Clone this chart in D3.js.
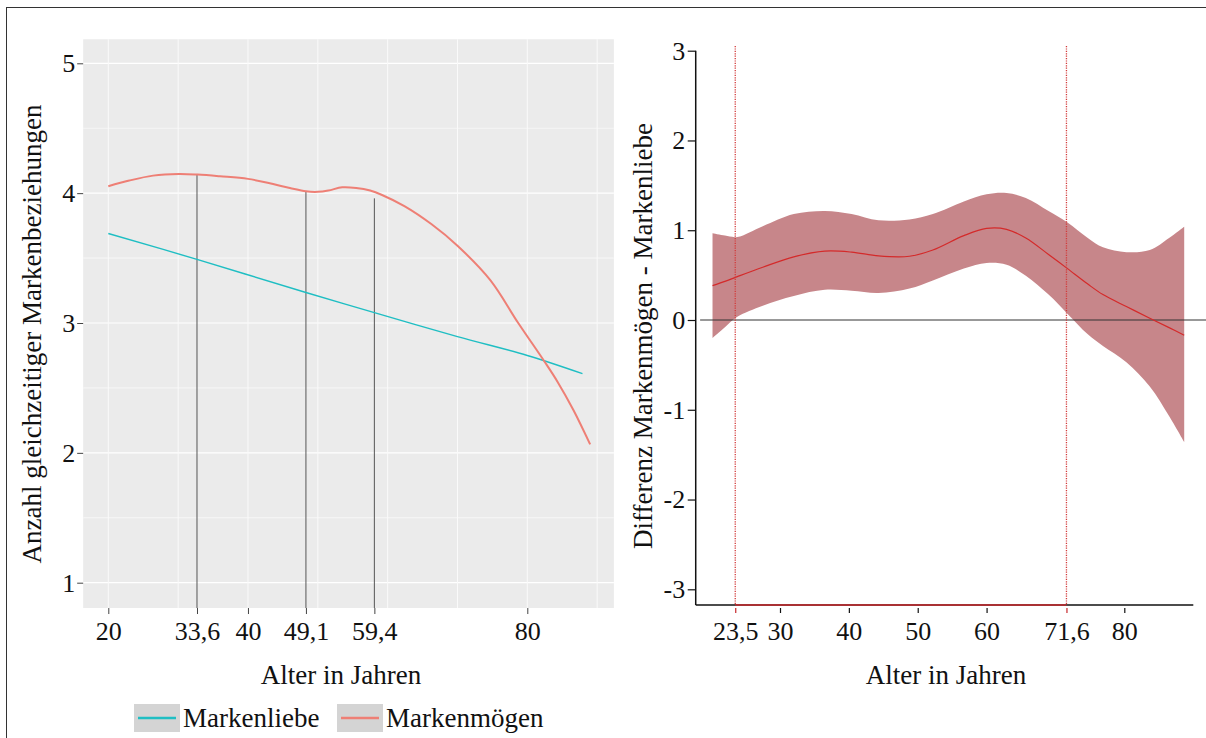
<!DOCTYPE html>
<html>
<head>
<meta charset="utf-8">
<script src="https://cdn.jsdelivr.net/npm/d3@7"></script>
<style>
  html, body { margin: 0; padding: 0; background: #fff; }
  svg { display: block; }
  text { font-family: "Liberation Serif", "Times New Roman", serif; fill: #111; }
</style>
</head>
<body>
<svg id="chart" width="1206" height="738"></svg>
<script>
// ---------------- Data (left panel) ----------------
const seriesNames = ["Markenliebe", "Markenmögen"];
const seriesColors = ["#1fbec3", "#ee7f75"];

const liebeAges = [20, 32.7, 48.3, 58.1, 70, 80, 87.9];
const liebeVals = [3.689, 3.49, 3.235, 3.08, 2.895, 2.75, 2.61];

const moegenAges = [20, 23, 26.4, 30.1, 32.8, 36, 40, 43.6, 46, 48.3, 50, 51.5, 53.5, 55.5, 57.5, 59.2, 62.4, 66.3, 70, 74.7, 78.7, 82.5, 84.3, 86.6, 89.0];
const moegenVals = [4.053, 4.097, 4.135, 4.148, 4.143, 4.13, 4.11, 4.07, 4.04, 4.014, 4.01, 4.02, 4.045, 4.04, 4.02, 3.986, 3.90, 3.76, 3.595, 3.33, 3.0, 2.70, 2.55, 2.33, 2.065];

// vertical marker lines (age position, top value)
const markerAges = [32.7, 48.3, 58.1];
const markerTops = [4.14, 4.01, 3.96];

const leftXTicks = [20, 32.7, 40, 48.3, 58.1, 80];
const leftXTickLabels = ["20", "33,6", "40", "49,1", "59,4", "80"];
const leftYTicks = [1, 2, 3, 4, 5];
const leftYMinor = [1.5, 2.5, 3.5, 4.5];
const leftGridAges = [20, 30, 40, 50, 60, 70, 80, 90];

// ---------------- Data (right panel) ----------------
const diffAges  = [20.2, 22.0, 23.8, 27.5, 32.0, 36.5, 40.4, 44.3, 48.8, 52.2, 56.7, 60.0, 62.9, 65.7, 69.0, 71.7, 74.7, 76.9, 80.3, 83.7, 86.5, 88.7];
const diffUpper = [0.966, 0.94, 0.925, 1.045, 1.18, 1.215, 1.18, 1.11, 1.12, 1.18, 1.32, 1.40, 1.415, 1.36, 1.215, 1.09, 0.914, 0.81, 0.756, 0.78, 0.914, 1.04];
const diffLower = [-0.20, -0.08, 0.036, 0.16, 0.268, 0.336, 0.325, 0.30, 0.35, 0.44, 0.573, 0.635, 0.615, 0.493, 0.283, 0.073, -0.16, -0.29, -0.47, -0.74, -1.07, -1.36];
const diffLine  = [0.383, 0.43, 0.483, 0.588, 0.704, 0.767, 0.756, 0.714, 0.71, 0.78, 0.94, 1.02, 1.01, 0.914, 0.73, 0.575, 0.40, 0.283, 0.15, 0.02, -0.085, -0.17];

const sigBounds = [23.5, 71.6];
const rightXTicks = [23.5, 30, 40, 50, 60, 71.6, 80];
const rightXTickLabels = ["23,5", "30", "40", "50", "60", "71,6", "80"];
const rightYTicks = [-3, -2, -1, 0, 1, 2, 3];

const leftYTitle = "Anzahl gleichzeitiger Markenbeziehungen";
const rightYTitle = "Differenz Markenmögen - Markenliebe";
const xTitle = "Alter in Jahren";

// ---------------- Drawing ----------------
const svg = d3.select("#chart");
const FS = 26, TFS = 27;
const redDark = "#c8282c";
const fmtInt = d => String(d); // plain hyphen minus like the reference

// outer frame
svg.append("rect").attr("x", 6.5).attr("y", 7.5).attr("width", 1220).attr("height", 760)
  .attr("fill", "none").attr("stroke", "#333").attr("stroke-width", 1);

// ===== Left panel =====
const xL = d3.scaleLinear().domain([20, 80]).range([108.3, 527.3]);
const yL = d3.scaleLinear().domain([1, 5]).range([582.7, 63.3]);
const panelAge = [16.4, 92.4], panelVal = [0.805, 5.185];

const gL = svg.append("g");
gL.append("rect")
  .attr("x", xL(panelAge[0])).attr("y", yL(panelVal[1]))
  .attr("width", xL(panelAge[1]) - xL(panelAge[0]))
  .attr("height", yL(panelVal[0]) - yL(panelVal[1]))
  .attr("fill", "#ebebeb");

gL.selectAll(".hminor").data(leftYMinor).join("line")
  .attr("x1", xL(panelAge[0])).attr("x2", xL(panelAge[1]))
  .attr("y1", d => yL(d)).attr("y2", d => yL(d))
  .attr("stroke", "#fafafa").attr("stroke-width", 0.8);
gL.selectAll(".hmajor").data(leftYTicks).join("line")
  .attr("x1", xL(panelAge[0])).attr("x2", xL(panelAge[1]))
  .attr("y1", d => yL(d)).attr("y2", d => yL(d))
  .attr("stroke", "#fff").attr("stroke-width", 1.2);
gL.selectAll(".vgrid").data(leftGridAges).join("line")
  .attr("x1", d => xL(d)).attr("x2", d => xL(d))
  .attr("y1", yL(panelVal[1])).attr("y2", yL(panelVal[0]))
  .attr("stroke", "#fafafa").attr("stroke-width", 1);

// marker lines
gL.selectAll(".marker").data(markerAges).join("line")
  .attr("x1", d => xL(d)).attr("x2", d => xL(d))
  .attr("y1", yL(panelVal[0])).attr("y2", (d, i) => yL(markerTops[i]))
  .attr("stroke", "#555").attr("stroke-width", 1);

const lineL = d3.line().x(d => xL(d[0])).y(d => yL(d[1])).curve(d3.curveCatmullRom.alpha(0.5));
gL.append("path").datum(liebeAges.map((a, i) => [a, liebeVals[i]]))
  .attr("d", lineL).attr("fill", "none").attr("stroke", seriesColors[0]).attr("stroke-width", 1.4);
gL.append("path").datum(moegenAges.map((a, i) => [a, moegenVals[i]]))
  .attr("d", lineL).attr("fill", "none").attr("stroke", seriesColors[1]).attr("stroke-width", 2);

// axes
const axLx = gL.append("g").attr("transform", `translate(0,${yL(panelVal[0])})`)
  .call(d3.axisBottom(xL).tickValues(leftXTicks).tickFormat((d, i) => leftXTickLabels[i]).tickSize(6).tickPadding(7.5));
const axLy = gL.append("g").attr("transform", `translate(${xL(panelAge[0])},0)`)
  .call(d3.axisLeft(yL).tickValues(leftYTicks).tickFormat(fmtInt).tickSize(6).tickPadding(2));
[axLx, axLy].forEach(a => {
  a.select(".domain").remove();
  a.selectAll(".tick line").attr("stroke", "#444");
  a.selectAll("text").style("font-size", FS + "px").attr("fill", "#111")
    .style("font-family", '"Liberation Serif", "Times New Roman", serif');
});

gL.append("text").attr("x", 341).attr("y", 684).attr("text-anchor", "middle")
  .style("font-size", TFS + "px").text(xTitle);
gL.append("text").attr("transform", "translate(41,334) rotate(-90)").attr("text-anchor", "middle")
  .style("font-size", TFS + "px").text(leftYTitle);

// legend
const legendX = [134, 337];
const lg = gL.selectAll(".leg").data(seriesNames).join("g")
  .attr("transform", (d, i) => `translate(${legendX[i]},704)`);
lg.append("rect").attr("width", 46).attr("height", 28).attr("fill", "#d4d4d4");
lg.append("line").attr("x1", 4).attr("x2", 42).attr("y1", 14).attr("y2", 14)
  .attr("stroke", (d, i) => seriesColors[i]).attr("stroke-width", 2.5);
lg.append("text").attr("x", 49).attr("y", 23).style("font-size", TFS + "px").text(d => d);

// ===== Right panel =====
const xR = d3.scaleLinear().domain([30, 80]).range([780, 1124.3]);
const yR = d3.scaleLinear().domain([-3, 3]).range([589.3, 50.7]);
const axisAge = [17.76, 90.02];
const axisY = 605;
const gR = svg.append("g");

// band
const area = d3.area().x(d => xR(d[0])).y0(d => yR(d[1])).y1(d => yR(d[2])).curve(d3.curveCatmullRom.alpha(0.5));
gR.append("path").datum(diffAges.map((a, i) => [a, diffLower[i], diffUpper[i]]))
  .attr("d", area).attr("fill", "#c7868a");

// zero line
gR.append("line").attr("x1", xR(18.4)).attr("x2", 1206).attr("y1", yR(0)).attr("y2", yR(0))
  .attr("stroke", "#333").attr("stroke-width", 1);

// estimate line
const lineR = d3.line().x(d => xR(d[0])).y(d => yR(d[1])).curve(d3.curveCatmullRom.alpha(0.5));
gR.append("path").datum(diffAges.map((a, i) => [a, diffLine[i]]))
  .attr("d", lineR).attr("fill", "none").attr("stroke", "#d42a2a").attr("stroke-width", 1.2);

// significance boundaries
gR.selectAll(".sig").data(sigBounds).join("line")
  .attr("x1", d => xR(d)).attr("x2", d => xR(d)).attr("y1", 46).attr("y2", axisY)
  .attr("stroke", "#d23a3a").attr("stroke-width", 1.3).attr("stroke-dasharray", "1.2,1.2");

// axis lines
gR.append("line").attr("x1", xR(axisAge[0])).attr("x2", xR(axisAge[1])).attr("y1", axisY).attr("y2", axisY)
  .attr("stroke", "#111").attr("stroke-width", 1.5);
gR.append("line").attr("x1", xR(sigBounds[0])).attr("x2", xR(sigBounds[1])).attr("y1", axisY).attr("y2", axisY)
  .attr("stroke", redDark).attr("stroke-width", 1.5);
gR.append("line").attr("x1", xR(axisAge[0])).attr("x2", xR(axisAge[0])).attr("y1", yR(3)).attr("y2", axisY)
  .attr("stroke", "#111").attr("stroke-width", 1.5);

const axRx = gR.append("g").attr("transform", `translate(0,${axisY + 3})`)
  .call(d3.axisBottom(xR).tickValues(rightXTicks).tickFormat((d, i) => rightXTickLabels[i]).tickSize(5).tickPadding(8.5));
const axRy = gR.append("g").attr("transform", `translate(${xR(axisAge[0])},0)`)
  .call(d3.axisLeft(yR).tickValues(rightYTicks).tickFormat(fmtInt).tickSize(8).tickPadding(2.5));
[axRx, axRy].forEach(a => {
  a.select(".domain").remove();
  a.selectAll(".tick line").attr("stroke", "#111").attr("stroke-width", 1.2);
  a.selectAll("text").style("font-size", FS + "px").attr("fill", "#111")
    .style("font-family", '"Liberation Serif", "Times New Roman", serif');
});
axRx.selectAll(".tick").filter(d => sigBounds.includes(d)).each(function () {
  d3.select(this).select("text").attr("fill", redDark);
  d3.select(this).select("line").attr("stroke", redDark);
});

gR.append("text").attr("x", 946).attr("y", 684).attr("text-anchor", "middle")
  .style("font-size", TFS + "px").text(xTitle);
gR.append("text").attr("transform", "translate(652,336) rotate(-90)").attr("text-anchor", "middle")
  .style("font-size", TFS + "px").text(rightYTitle);
</script>
</body>
</html>
